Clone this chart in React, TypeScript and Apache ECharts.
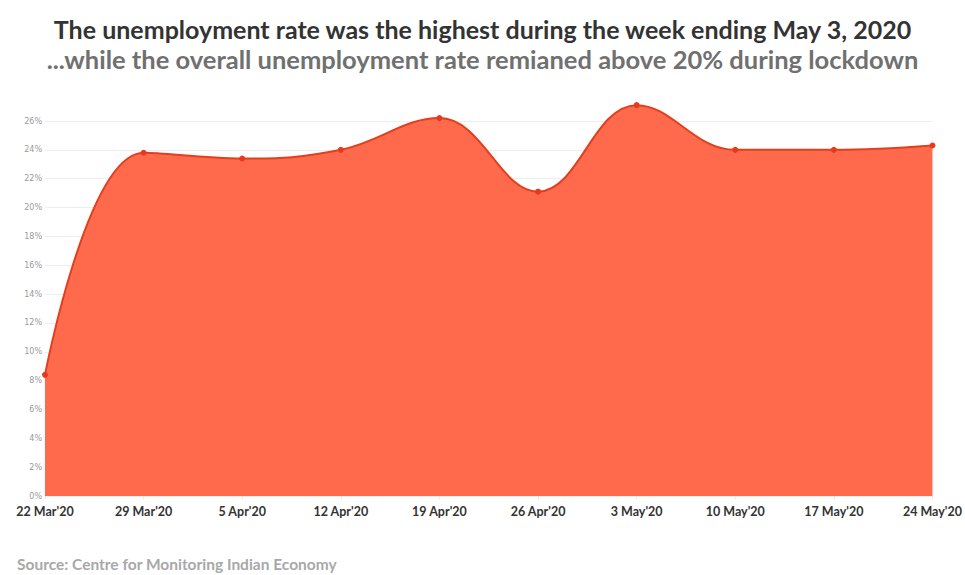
import React, { useEffect, useRef } from "react";
import * as echarts from "echarts";

const categories = ["22 Mar'20", "29 Mar'20", "5 Apr'20", "12 Apr'20", "19 Apr'20", "26 Apr'20", "3 May'20", "10 May'20", "17 May'20", "24 May'20"];
const rates = [8.4, 23.8, 23.4, 24.0, 26.2, 21.1, 27.1, 24.0, 24.0, 24.3];
const yTicks = { min: 0, max: 26, interval: 2 };
const titleText = "The unemployment rate was the highest during the week ending May 3, 2020";
const subtitleText = "...while the overall unemployment rate remianed above 20% during lockdown";
const sourceText = "Source: Centre for Monitoring Indian Economy";

export default function App() {
  const ref = useRef<HTMLDivElement>(null);
  useEffect(() => {
    if (!ref.current) return;
    const chart = echarts.init(ref.current, null, { renderer: "svg" });
    chart.setOption({
      animation: false,
      backgroundColor: "#ffffff",
      title: [
        {
          text: titleText,
          left: "center",
          top: 11,
          textStyle: { fontFamily: "Lato", fontWeight: "bold", fontSize: 25, color: "#333333" },
        },
        {
          text: subtitleText,
          left: "center",
          top: 41,
          textStyle: { fontFamily: "Lato", fontWeight: "bold", fontSize: 25.5, color: "#707070" },
        },
        {
          text: sourceText,
          left: 12,
          top: 551,
          textStyle: { fontFamily: "Lato", fontWeight: "bold", fontSize: 15.5, color: "#a8a8a8" },
        },
      ],
      grid: { left: 45, right: 29, top: 121, bottom: 79, containLabel: false },
      xAxis: {
        type: "category",
        data: categories,
        boundaryGap: false,
        axisLine: { show: false },
        axisTick: { show: true, length: 3, lineStyle: { color: "#e6e6e6" } },
        axisLabel: {
          margin: 9,
          fontFamily: "Lato",
          fontWeight: "bold",
          fontSize: 12.5,
          color: "#333333",
          showMinLabel: true,
          showMaxLabel: true,
          interval: 0,
        },
        splitLine: { show: false },
      },
      yAxis: {
        type: "value",
        min: yTicks.min,
        max: yTicks.max,
        interval: yTicks.interval,
        axisLine: { show: false },
        axisTick: { show: false },
        axisLabel: {
          margin: 3,
          fontFamily: "DejaVu Sans",
          fontSize: 8,
          color: "#9a9a9a",
          formatter: (v: number) => `${v}%`,
        },
        splitLine: { show: true, lineStyle: { color: "#eeeeee", width: 1 } },
      },
      series: [
        {
          type: "line",
          data: rates,
          smooth: 0.4,
          clip: false,
          symbol: "circle",
          symbolSize: 6,
          itemStyle: { color: "#e8391c" },
          lineStyle: { color: "#e0401e", width: 2 },
          areaStyle: { color: "#ff6a4d", opacity: 1 },
          z: 3,
        },
      ],
    });
    return () => chart.dispose();
  }, []);
  return <div ref={ref} style={{ position: "absolute", left: 0, top: 0, width: 965, height: 575 }} />;
}
